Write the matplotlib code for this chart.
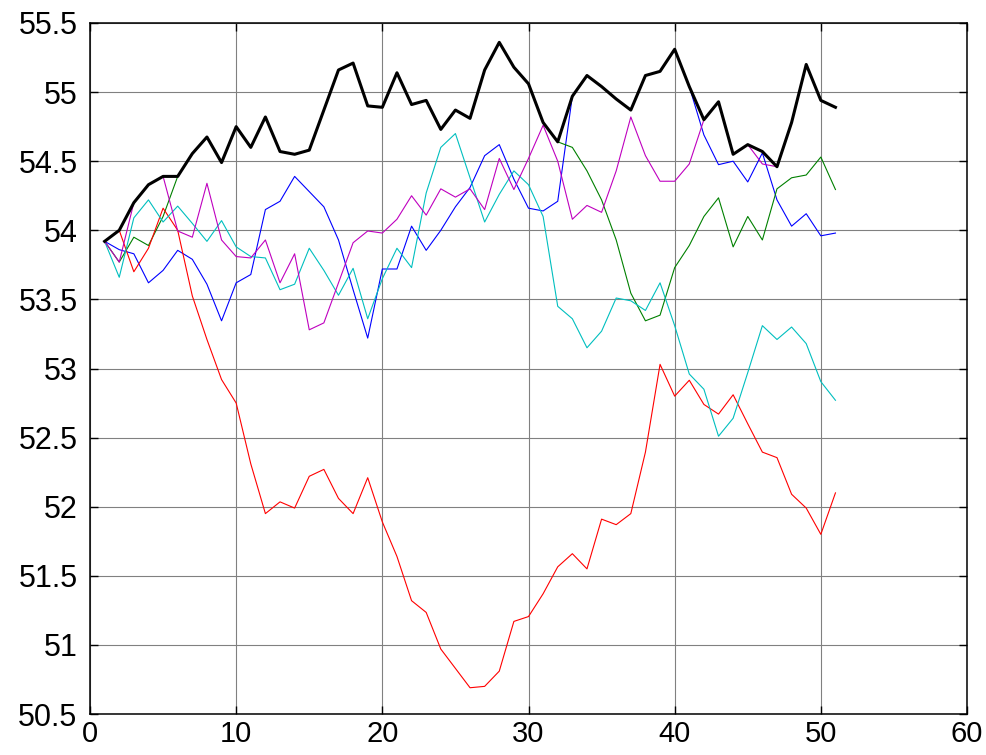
import matplotlib
matplotlib.use("Agg")
import matplotlib.pyplot as plt
import numpy as np

x = list(range(1, 52))

black = [53.92, 54.00, 54.20, 54.33, 54.39, 54.39, 54.555, 54.675, 54.49, 54.75,
         54.60, 54.82, 54.57, 54.55, 54.58, 54.87, 55.16, 55.21, 54.90, 54.89,
         55.14, 54.91, 54.94, 54.73, 54.87, 54.81, 55.16, 55.36, 55.18, 55.06,
         54.78, 54.64, 54.97, 55.12, 55.04, 54.95, 54.87, 55.12, 55.15, 55.31,
         55.04, 54.80, 54.93, 54.55, 54.62, 54.57, 54.46, 54.78, 55.20, 54.94,
         54.89]

blue = [53.92, 53.86, 53.83, 53.62, 53.71, 53.855, 53.79, 53.61, 53.345, 53.62,
        53.68, 54.15, 54.21, 54.39, 54.28, 54.17, 53.93, 53.57, 53.22, 53.72,
        53.72, 54.03, 53.855, 54.00, 54.17, 54.31, 54.54, 54.62, 54.37, 54.16,
        54.14, 54.21, 54.97, 55.12, 55.04, 54.95, 54.87, 55.12, 55.15, 55.31,
        55.04, 54.69, 54.475, 54.50, 54.35, 54.56, 54.22, 54.03, 54.12, 53.96,
        53.98]

green = [53.92, 53.77, 53.95, 53.89, 54.10, 54.39, 54.555, 54.675, 54.49, 54.75,
         54.60, 54.82, 54.57, 54.55, 54.58, 54.87, 55.16, 55.21, 54.90, 54.89,
         55.14, 54.91, 54.94, 54.73, 54.87, 54.81, 55.16, 55.36, 55.18, 55.06,
         54.78, 54.64, 54.60, 54.43, 54.22, 53.93, 53.545, 53.345, 53.386, 53.73,
         53.89, 54.10, 54.235, 53.88, 54.10, 53.93, 54.30, 54.38, 54.40, 54.53,
         54.295]

red = [53.92, 54.00, 53.70, 53.87, 54.16, 54.00, 53.525, 53.21, 52.92, 52.75,
       52.31, 51.95, 52.035, 51.99, 52.22, 52.27, 52.06, 51.95, 52.21, 51.89,
       51.64, 51.32, 51.235, 50.97, 50.83, 50.69, 50.70, 50.81, 51.17, 51.205,
       51.37, 51.565, 51.66, 51.55, 51.91, 51.87, 51.95, 52.395, 53.03, 52.80,
       52.915, 52.74, 52.67, 52.81, 52.60, 52.395, 52.355, 52.09, 51.99, 51.80,
       52.10]

cyan = [53.92, 53.66, 54.09, 54.22, 54.06, 54.175, 54.05, 53.92, 54.07, 53.88,
        53.81, 53.80, 53.57, 53.61, 53.87, 53.71, 53.53, 53.725, 53.36, 53.65,
        53.87, 53.73, 54.27, 54.60, 54.70, 54.38, 54.06, 54.26, 54.43, 54.33,
        54.10, 53.45, 53.36, 53.15, 53.27, 53.51, 53.49, 53.42, 53.62, 53.31,
        52.96, 52.85, 52.51, 52.64, 52.97, 53.31, 53.21, 53.30, 53.18, 52.905,
        52.77]

magenta = [53.92, 53.77, 54.20, 54.33, 54.39, 53.995, 53.95, 54.34, 53.93, 53.81,
           53.80, 53.93, 53.62, 53.83, 53.28, 53.33, 53.62, 53.91, 53.995, 53.98,
           54.08, 54.25, 54.11, 54.30, 54.24, 54.30, 54.15, 54.52, 54.295, 54.52,
           54.76, 54.50, 54.08, 54.18, 54.13, 54.43, 54.82, 54.54, 54.355, 54.355,
           54.48, 54.80, 54.93, 54.55, 54.62, 54.48, 54.46, 54.78, 55.20, 54.94,
           54.89]

x_ticks = [0, 10, 20, 30, 40, 50, 60]
y_ticks = [50.5, 51, 51.5, 52, 52.5, 53, 53.5, 54, 54.5, 55, 55.5]
y_labels = ["50.5", "51", "51.5", "52", "52.5", "53", "53.5", "54", "54.5", "55", "55.5"]

plt.rcParams['font.family'] = ['Liberation Sans', 'DejaVu Sans']

W, H = 986, 755
left_px, right_px, top_px, bottom_px = 90, 967, 23, 714
fig = plt.figure(figsize=(W / 100, H / 100), dpi=100)
ax = fig.add_axes([left_px / W, 1 - bottom_px / H,
                   (right_px - left_px) / W, (bottom_px - top_px) / H])

series = [(blue, (0, 0, 1)), (green, (0, 0.5, 0)), (red, (1, 0, 0)),
          (cyan, (0, 0.75, 0.75)), (magenta, (0.75, 0, 0.75))]
for vals, col in series:
    ax.plot(x, vals, color=col, linewidth=0.8)
ax.plot(x, black, color='black', linewidth=2.2)

ax.set_xlim(0, 60)
ax.set_ylim(50.5, 55.5)
ax.set_xticks(x_ticks)
ax.set_xticklabels([str(t) for t in x_ticks])
ax.set_yticks(y_ticks)
ax.set_yticklabels(y_labels)
ax.grid(True, color='#808080', linewidth=0.8, linestyle='-')
ax.set_axisbelow(True)
ax.tick_params(direction='in', top=True, right=True, length=6, width=1)
ax.tick_params(axis='y', labelsize=22, pad=9)
ax.tick_params(axis='x', labelsize=21, pad=4)
for s in ax.spines.values():
    s.set_linewidth(1.1)

fig.savefig("out.png", dpi=100)
